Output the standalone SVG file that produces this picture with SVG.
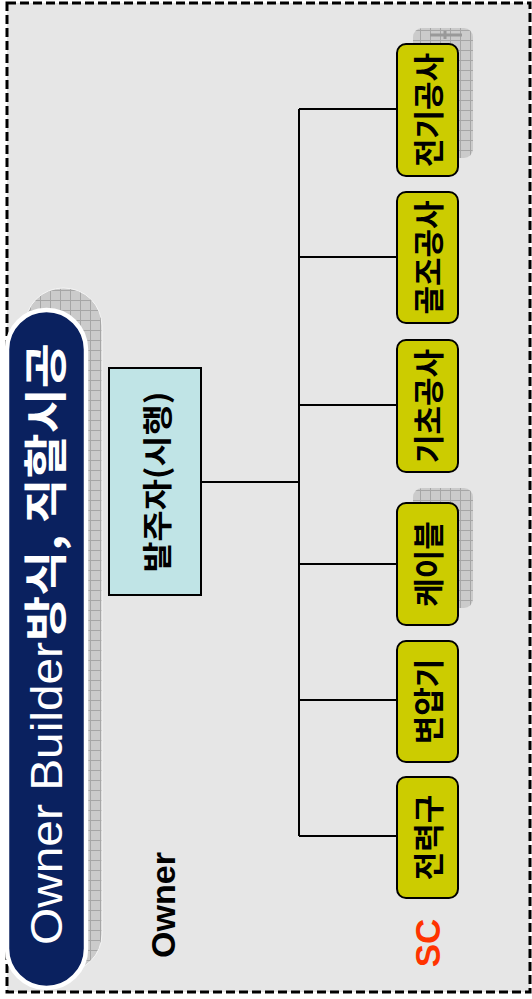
<svg xmlns="http://www.w3.org/2000/svg" width="532" height="999" viewBox="0 0 532 999">
  <defs>
    <pattern id="grid" width="10" height="10" patternUnits="userSpaceOnUse">
      <rect width="10" height="10" fill="#cbcbcb"/>
      <path d="M0 0.5 H10 M0.5 0 V10" stroke="#a6a6a6" stroke-width="1"/>
    </pattern>
  </defs>
  <style>
    .ko { font-family: "Noto Sans CJK KR", "Liberation Sans", sans-serif; font-weight: bold; }
    .lat { font-family: "Liberation Sans", "Noto Sans CJK KR", sans-serif; }
    .leaf rect.box { fill: #cccc00; stroke: #000; stroke-width: 2; }
    .leaf text { font-size: 31px; fill: #000; }
    .shadow { fill: url(#grid); }
    .conn { stroke: #000; stroke-width: 2; fill: none; }
  </style>

  <rect x="0" y="0" width="532" height="999" fill="#ffffff"/>
  <rect x="7" y="3" width="523" height="989" fill="#e6e6e6" stroke="#000" stroke-width="3" stroke-dasharray="9,4"/>

  <!-- title -->
  <g id="title">
    <rect class="shadow" x="25" y="288" width="77" height="684" rx="38" ry="38" stroke="#f4f4f4" stroke-width="1"/>
    <rect x="7" y="310" width="79" height="678" rx="39.5" ry="39.5" fill="#0a215f" stroke="#ffffff" stroke-width="4.5"/>
    <text class="lat" transform="translate(62,945) rotate(-90)" font-size="44" fill="#ffffff" textLength="303" lengthAdjust="spacingAndGlyphs">Owner Builder</text>
    <text class="ko" transform="translate(62,641) rotate(-90)" font-size="44" fill="#ffffff" textLength="298" lengthAdjust="spacingAndGlyphs">방식, 직할시공</text>
  </g>

  <g id="owner-label">
    <text class="lat" transform="translate(175,905) rotate(-90)" text-anchor="middle" font-size="34" font-weight="bold" fill="#000">Owner</text>
  </g>
  <g id="sc-label">
    <text class="lat" transform="translate(440,943) rotate(-90)" text-anchor="middle" font-size="35" font-weight="bold" fill="#ff3300">SC</text>
  </g>

  <!-- connectors -->
  <g id="connectors">
    <path class="conn" d="M201 482 H299" stroke-width="2.5"/>
    <path class="conn" d="M299 109 V836"/>
    <path class="conn" d="M299 109 H397 M299 257 H397 M299 405 H397 M299 564 H397 M299 700 H397 M299 836 H397"/>
  </g>

  <!-- owner box -->
  <g id="owner">
    <rect x="109" y="368" width="92" height="227" fill="#c0e4e6" stroke="#000" stroke-width="2"/>
    <text class="ko" transform="translate(168,482) rotate(-90)" text-anchor="middle" font-size="30" textLength="181" lengthAdjust="spacingAndGlyphs">발주자(시행)</text>
  </g>

  <g id="n-jeongi" class="leaf">
    <rect class="shadow" x="413" y="28" width="60" height="130" rx="9"/>
    <path d="M430 35 H462 M445 31 V39" stroke="#999" stroke-width="3"/>
    <rect class="box" x="397" y="44" width="61" height="132" rx="9"/>
    <text class="ko" transform="translate(440,110) rotate(-90)" text-anchor="middle">전기공사</text>
  </g>
  <g id="n-goljo" class="leaf">
    <rect class="box" x="397" y="192" width="61" height="131" rx="9"/>
    <text class="ko" transform="translate(440,257.5) rotate(-90)" text-anchor="middle">골조공사</text>
  </g>
  <g id="n-gicho" class="leaf">
    <rect class="box" x="397" y="340" width="61" height="132" rx="9"/>
    <text class="ko" transform="translate(440,406) rotate(-90)" text-anchor="middle">기초공사</text>
  </g>
  <g id="n-cable" class="leaf">
    <rect class="shadow" x="413" y="488" width="60" height="120" rx="9"/>
    <rect class="box" x="397" y="503" width="61" height="122" rx="9"/>
    <text class="ko" transform="translate(440,564) rotate(-90)" text-anchor="middle">케이블</text>
  </g>
  <g id="n-byeonapgi" class="leaf">
    <rect class="box" x="397" y="641" width="61" height="121" rx="9"/>
    <text class="ko" transform="translate(440,701.5) rotate(-90)" text-anchor="middle">변압기</text>
  </g>
  <g id="n-jeonryeokgu" class="leaf">
    <rect class="box" x="397" y="777" width="61" height="121" rx="9"/>
    <text class="ko" transform="translate(440,837.5) rotate(-90)" text-anchor="middle">전력구</text>
  </g>
</svg>
